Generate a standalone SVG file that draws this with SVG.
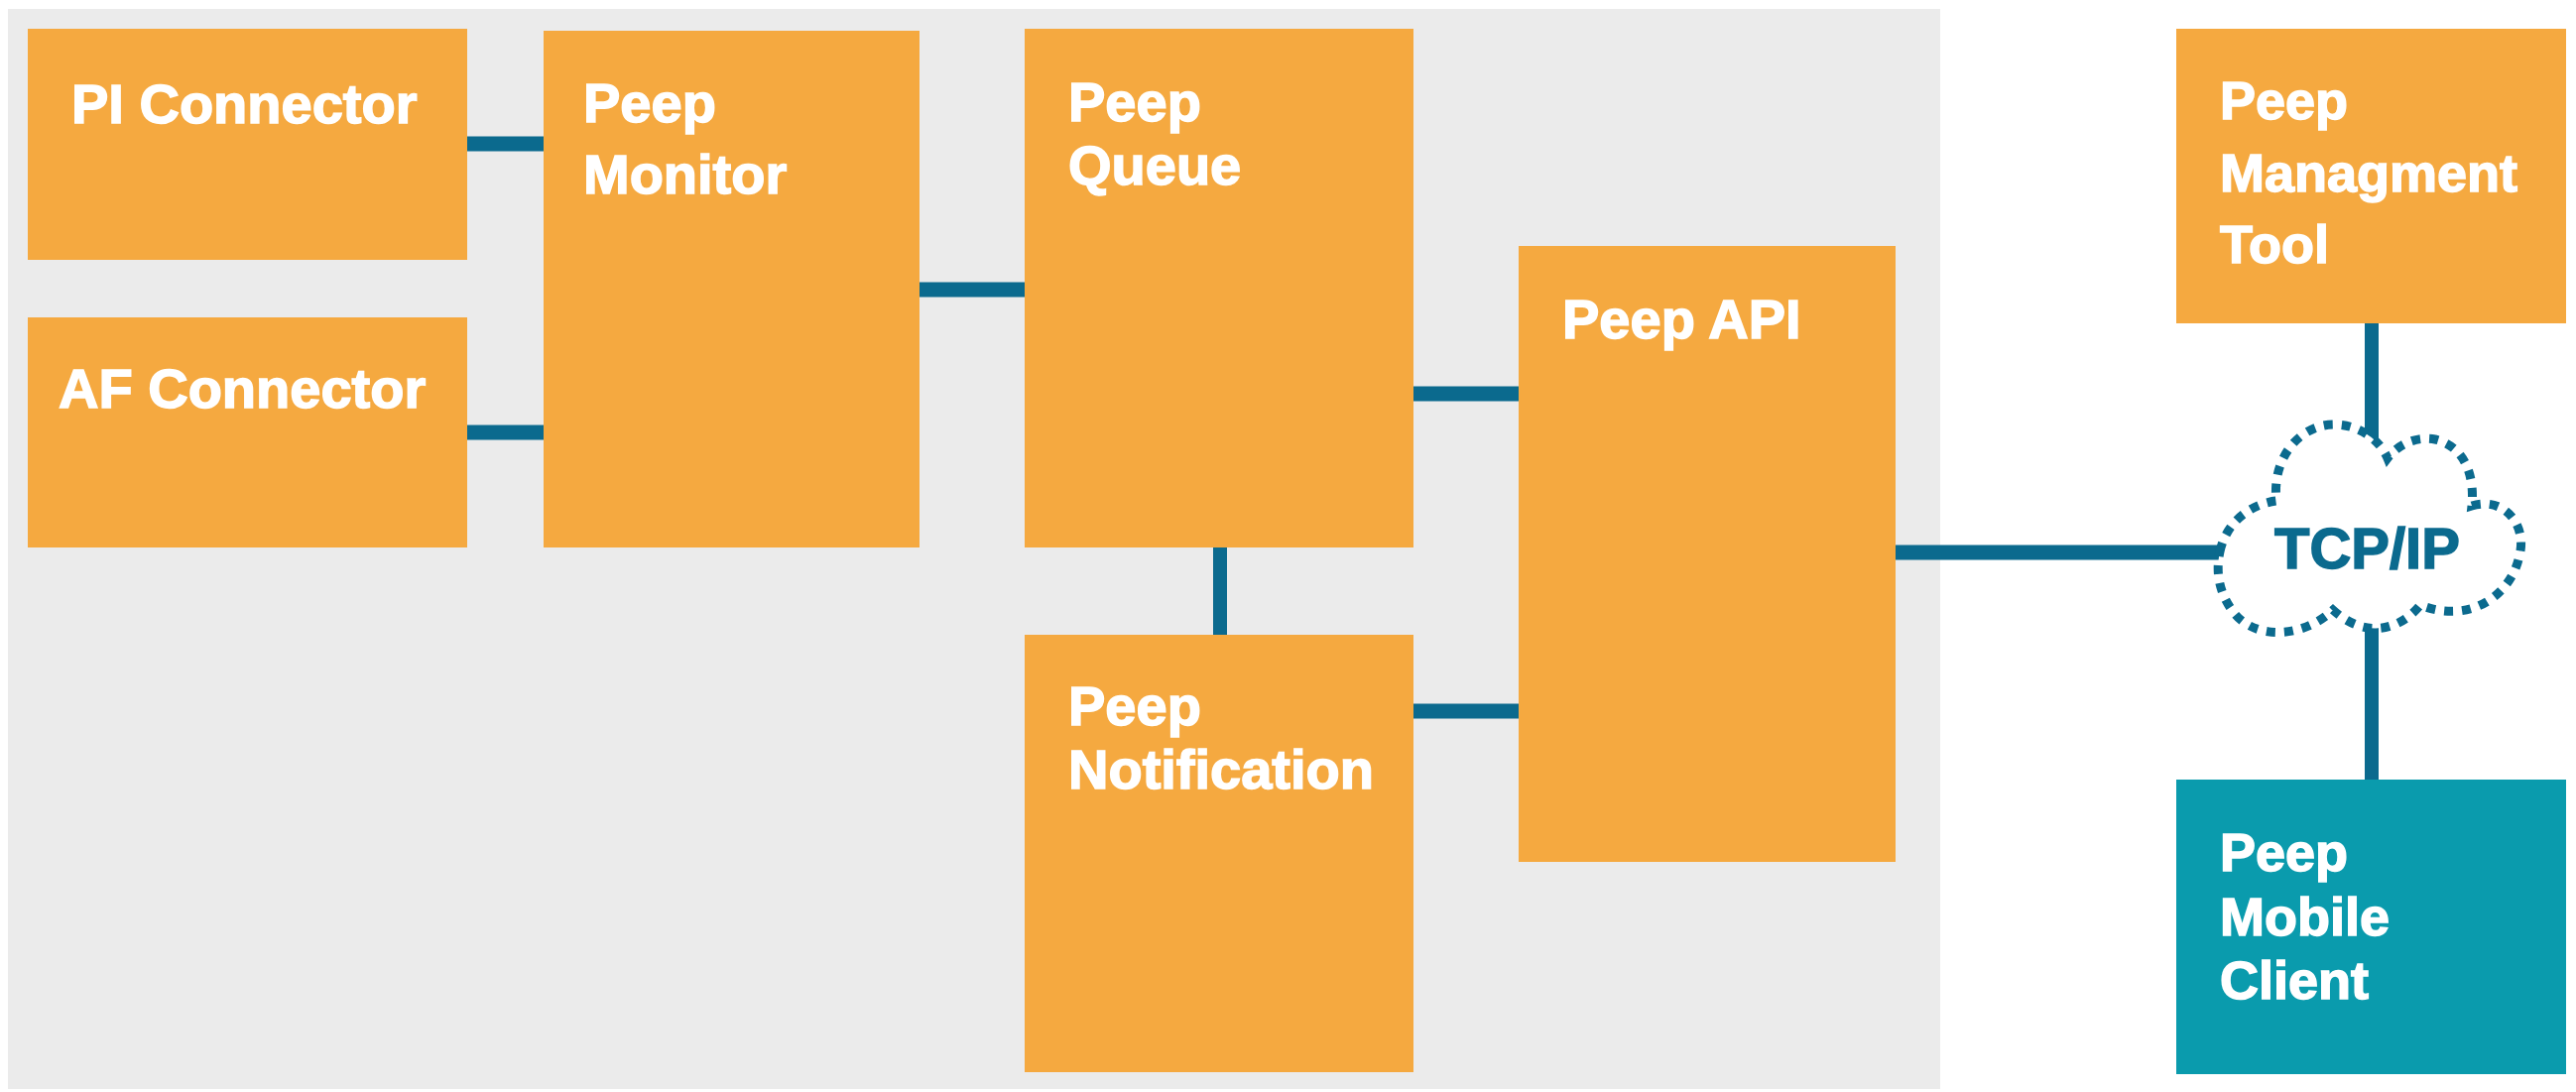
<svg xmlns="http://www.w3.org/2000/svg" width="2597" height="1101" viewBox="0 0 2597 1101">
<style>
.box{fill:#F5A940}
.mob{fill:#0A9BAD}
.lbl{font-family:"Liberation Sans",Arial,sans-serif;font-weight:bold;font-size:56px;fill:#FFFFFF;stroke:#FFFFFF;stroke-width:1.5}
.lbl2{font-family:"Liberation Sans",Arial,sans-serif;font-weight:bold;font-size:54px;fill:#FFFFFF;stroke:#FFFFFF;stroke-width:1.5}
.conn{stroke:#0B6A8E;stroke-width:15;fill:none}
.cloud{stroke:#0B6A8E;stroke-width:9;stroke-dasharray:9 9;fill:#FFFFFF}
.net{font-family:"Liberation Sans",Arial,sans-serif;font-weight:bold;font-size:58px;fill:#0B6A8E;stroke:#0B6A8E;stroke-width:1.5}
</style>
<rect width="2597" height="1101" fill="#FFFFFF"/>
<rect id="system-area" x="8" y="9" width="1948" height="1089" fill="#EBEBEB"/>
<g id="connectors">
<line class="conn" x1="471" y1="145" x2="548" y2="145"/>
<line class="conn" x1="471" y1="436" x2="548" y2="436"/>
<line class="conn" x1="927" y1="292" x2="1033" y2="292"/>
<line class="conn" x1="1425" y1="397" x2="1531" y2="397"/>
<line class="conn" x1="1230" y1="552" x2="1230" y2="640" style="stroke-width:14"/>
<line class="conn" x1="1425" y1="717" x2="1531" y2="717"/>
<line class="conn" x1="1911" y1="557" x2="2242" y2="557"/>
<line class="conn" x1="2391" y1="326" x2="2391" y2="447" style="stroke-width:14"/>
<line class="conn" x1="2391" y1="633" x2="2391" y2="786" style="stroke-width:14"/>
</g>
<g id="pi-connector">
<rect class="box" x="28" y="29" width="443" height="233"/>
<text class="lbl" x="72" y="124">PI Connector</text>
</g>
<g id="af-connector">
<rect class="box" x="28" y="320" width="443" height="232"/>
<text class="lbl" x="59" y="411">AF Connector</text>
</g>
<g id="peep-monitor">
<rect class="box" x="548" y="31" width="379" height="521"/>
<text class="lbl" x="588" y="123">Peep</text>
<text class="lbl" x="588" y="195">Monitor</text>
</g>
<g id="peep-queue">
<rect class="box" x="1033" y="29" width="392" height="523"/>
<text class="lbl" x="1077" y="122">Peep</text>
<text class="lbl" x="1077" y="186">Queue</text>
</g>
<g id="peep-notification">
<rect class="box" x="1033" y="640" width="392" height="441"/>
<text class="lbl" x="1077" y="731">Peep</text>
<text class="lbl" x="1077" y="795">Notification</text>
</g>
<g id="peep-api">
<rect class="box" x="1531" y="248" width="380" height="621"/>
<text class="lbl" x="1575" y="341">Peep API</text>
</g>
<g id="peep-management-tool">
<rect class="box" x="2194" y="29" width="393" height="297"/>
<text class="lbl2" x="2238" y="120">Peep</text>
<text class="lbl2" x="2238" y="193">Managment</text>
<text class="lbl2" x="2238" y="265">Tool</text>
</g>
<g id="tcp-ip">
<path class="cloud" d="M2238,556 C2245,525 2270,508 2295,505 C2290,460 2320,428 2353,428 C2380,428 2400,445 2407,462 C2420,445 2440,440 2455,443 C2485,450 2495,480 2492,510 C2525,500 2548,530 2540,560 C2532,600 2490,630 2440,610 C2420,635 2385,645 2352,615 C2320,645 2270,645 2250,615 C2236,595 2234,575 2238,556 Z"/>
<text class="net" x="2293" y="573">TCP/IP</text>
</g>
<g id="peep-mobile-client">
<rect class="mob" x="2194" y="786" width="393" height="297"/>
<text class="lbl2" x="2238" y="878">Peep</text>
<text class="lbl2" x="2238" y="943">Mobile</text>
<text class="lbl2" x="2238" y="1007">Client</text>
</g>
</svg>
